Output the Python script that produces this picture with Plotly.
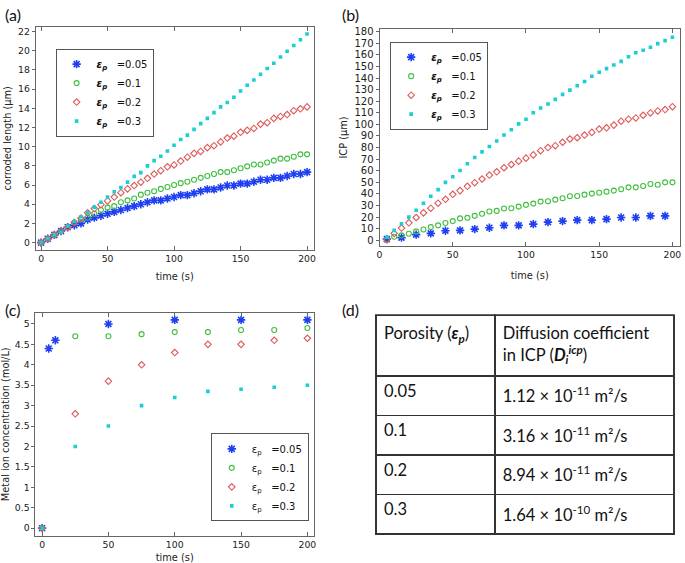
import plotly.graph_objects as go

# ---------------- data ----------------
time_a = [0, 5, 10, 15, 20, 25, 30, 35, 40, 45, 50, 55, 60, 65, 70, 75, 80, 85, 90, 95, 100,
          105, 110, 115, 120, 125, 130, 135, 140, 145, 150, 155, 160, 165, 170, 175, 180, 185, 190, 195, 200]
cl_005 = [0, 0.4, 0.8, 1.2, 1.6, 1.8, 2.0, 2.4, 2.6, 2.8, 3.0, 3.2, 3.4, 3.6, 3.8, 4.0, 4.2, 4.4, 4.4, 4.6, 4.75,
          4.95, 4.95, 5.15, 5.35, 5.55, 5.55, 5.75, 5.95, 5.95, 6.15, 6.15, 6.35, 6.55, 6.55, 6.75, 6.75, 6.95, 7.15, 7.15, 7.35]
cl_01 = [0, 0.4, 0.8, 1.2, 1.6, 2.1, 2.4, 2.6, 3.0, 3.4, 3.65, 3.8, 4.2, 4.4, 4.6, 5.0, 5.2, 5.35, 5.6, 5.8, 6.0,
         6.2, 6.35, 6.55, 6.75, 6.95, 7.15, 7.35, 7.35, 7.55, 7.75, 7.95, 8.15, 8.15, 8.35, 8.55, 8.75, 8.75, 8.95, 9.2, 9.2]
cl_02 = [0, 0.4, 0.8, 1.2, 1.6, 2.1, 2.55, 3.1, 3.55, 3.95, 4.35, 4.75, 5.2, 5.6, 5.95, 6.3, 6.7, 7.15, 7.5, 7.9, 8.1,
         8.5, 8.9, 9.3, 9.5, 9.9, 10.1, 10.5, 10.9, 11.1, 11.5, 11.7, 11.9, 12.35, 12.5, 12.95, 13.15, 13.35, 13.75, 13.95, 14.15]
cl_03 = [0, 0.4, 0.8, 1.1, 1.7, 2.2, 2.7, 3.1, 3.7, 4.2, 4.75, 5.3, 5.75, 6.3, 6.9, 7.3, 8.0, 8.55, 9.0, 9.55, 10.15,
         10.75, 11.2, 11.8, 12.4, 12.95, 13.55, 14.15, 14.6, 15.15, 15.8, 16.4, 16.95, 17.55, 18.15, 18.7, 19.35, 19.95, 20.55, 21.15, 21.75]

time_b_005 = [5, 15, 25, 35, 45, 55, 65, 75, 85, 95, 105, 115, 125, 135, 145, 155, 165, 175, 185, 195]
icp_005 = [1, 2.3, 4.9, 6, 8.3, 8.6, 9.7, 10.9, 12.9, 12.9, 14, 15.7, 16.6, 17.4, 17.4, 18.3, 19.7, 19.7, 21.1, 21.1]
time_b = [5, 10, 15, 20, 25, 30, 35, 40, 45, 50, 55, 60, 65, 70, 75, 80, 85, 90, 95, 100,
          105, 110, 115, 120, 125, 130, 135, 140, 145, 150, 155, 160, 165, 170, 175, 180, 185, 190, 195, 200]
icp_01 = [0.5, 3.1, 4.3, 5.7, 7.7, 9.4, 11.4, 12.9, 14.9, 16.6, 18.9, 19.4, 21.1, 22.9, 24.9, 25.4, 27.4, 27.7, 29.1, 30.6,
          31.7, 33.4, 33.7, 35.1, 36.3, 38.0, 38.3, 39.4, 40.3, 41.1, 42.0, 42.9, 44.0, 45.7, 45.7, 46.9, 48.6, 48.0, 50.0, 50.0]
icp_02 = [0.6, 6.0, 10.6, 15.1, 19.7, 23.7, 27.7, 32.0, 35.4, 39.7, 42.9, 46.6, 49.7, 52.9, 56.3, 59.1, 62.6, 65.4, 68.3, 70.9,
          73.7, 77.3, 80.0, 81.6, 84.6, 87.4, 88.5, 90.8, 93.1, 96.0, 97.1, 99.4, 102.8, 104.5, 105.6, 107.9, 109.9, 111.6, 112.8, 115.3]
icp_03 = [2.6, 8.6, 14.3, 20.0, 26.0, 32.0, 38.0, 43.7, 50.0, 54.9, 60.3, 66.0, 71.4, 76.3, 80.9, 85.7, 90.8, 95.4, 100.5, 104.5,
          110.0, 114.2, 117.6, 121.6, 125.9, 129.6, 133.3, 137.0, 141.5, 145.0, 148.1, 151.2, 154.4, 158.3, 161.8, 164.0, 166.6, 169.7, 172.3, 175.2]

time_c_005 = [0, 5, 10, 50, 100, 150, 200]
conc_005 = [0, 4.4, 4.6, 5.0, 5.1, 5.1, 5.1]
time_c = [0, 25, 50, 75, 100, 125, 150, 175, 200]
conc_01 = [0, 4.7, 4.7, 4.75, 4.8, 4.8, 4.85, 4.85, 4.9]
conc_02 = [0, 2.8, 3.6, 4.0, 4.3, 4.5, 4.5, 4.6, 4.65]
conc_03 = [0, 2.0, 2.5, 3.0, 3.2, 3.35, 3.4, 3.45, 3.5]

porosity_labels = ["0.05", "0.1", "0.2", "0.3"]
diffusion_labels = ["1.12 × 10<sup>-11</sup> m²/s", "3.16 × 10<sup>-11</sup> m²/s",
                    "8.94 × 10<sup>-11</sup> m²/s", "1.64 × 10<sup>-10</sup> m²/s"]
eps_values = ["0.05", "0.1", "0.2", "0.3"]

ya_ticks = [0, 2, 4, 6, 8, 10, 12, 14, 16, 18, 20, 22]
yb_ticks = [0, 10, 20, 30, 40, 50, 60, 70, 80, 90, 100, 110, 120, 130, 140, 150, 160, 170, 180]
yc_ticks = [0, 0.5, 1, 1.5, 2, 2.5, 3, 3.5, 4, 4.5, 5]
yc_text = ["0", "0.5", "1", "1.5", "2", "2.5", "3", "3.5", "4", "4.5", "5"]
x_ticks = [0, 50, 100, 150, 200]

# ---------------- styles ----------------
W, H = 685, 563
BLUE, GREEN, RED, CYAN = "#1f3ff2", "#3fbf3f", "#de5a5a", "#19cfd3"
marker_styles = [
    dict(symbol="asterisk-open", size=7, color=BLUE, line=dict(color=BLUE, width=1.6)),
    dict(symbol="circle-open", size=5, color=GREEN, line=dict(color=GREEN, width=1.1)),
    dict(symbol="diamond-open", size=5, color=RED, line=dict(color=RED, width=1.1)),
    dict(symbol="square", size=3.6, color=CYAN, line=dict(width=0)),
]
FONT = "DejaVu Sans"
AXC = "#666"


def px_x(v):
    return v / W


def px_y(v):
    return 1 - v / H


fig = go.Figure()


def add_series(xs, ys, idx, xa, ya, legend, italic=True):
    if italic:
        name = "<b><i>ε<sub>p</sub></i></b>\u00a0\u00a0 =" + eps_values[idx]
    else:
        name = "ε<sub>p</sub>\u00a0\u00a0 =" + eps_values[idx]
    fig.add_trace(go.Scatter(x=xs, y=ys, mode="markers", marker=marker_styles[idx], name=name,
                             xaxis=xa, yaxis=ya, legend=legend))


# panel a
add_series(time_a, cl_005, 0, "x", "y", "legend")
add_series(time_a, cl_01, 1, "x", "y", "legend")
add_series(time_a, cl_02, 2, "x", "y", "legend")
add_series(time_a, cl_03, 3, "x", "y", "legend")
# panel b
add_series(time_b_005, icp_005, 0, "x2", "y2", "legend2")
add_series(time_b, icp_01, 1, "x2", "y2", "legend2")
add_series(time_b, icp_02, 2, "x2", "y2", "legend2")
add_series(time_b, icp_03, 3, "x2", "y2", "legend2")
# panel c
add_series(time_c_005, conc_005, 0, "x3", "y3", "legend3", italic=False)
add_series(time_c, conc_01, 1, "x3", "y3", "legend3", italic=False)
add_series(time_c, conc_02, 2, "x3", "y3", "legend3", italic=False)
add_series(time_c, conc_03, 3, "x3", "y3", "legend3", italic=False)

# panel d table
fig.add_trace(go.Table(
    domain=dict(x=[px_x(375.7), px_x(676.5)], y=[px_y(540), px_y(315)]),
    columnwidth=[120, 181],
    header=dict(values=["Porosity (<b><i>ε<sub>p</sub></i></b>)",
                        "Diffusion coefficient<br>in ICP (<b><i>D<sub>i</sub><sup>icp</sup></i></b>)"],
                align="left", height=61, fill=dict(color="white"),
                line=dict(color="#333", width=1.5),
                font=dict(family="Lato", size=16.5, color="#111")),
    cells=dict(values=[porosity_labels, diffusion_labels], align="left", height=39.5,
               fill=dict(color="white"), line=dict(color="#333", width=1.5),
               font=dict(family="Lato", size=16.5, color="#111")),
))

tickfont = dict(family=FONT, size=9.3, color="#222")
tickfont_b = dict(family=FONT, size=10, color="#222")
titlefont = dict(family=FONT, size=9.8, color="#222")


def xax(domain, rng, anchor, standoff):
    return dict(domain=domain, range=rng, anchor=anchor, showline=True, linecolor=AXC, linewidth=1,
                mirror="ticks", ticks="inside", ticklen=4, tickcolor=AXC, showgrid=False, zeroline=False,
                tickmode="array", tickvals=x_ticks, tickfont=tickfont,
                title=dict(text="time (s)", font=titlefont, standoff=standoff))


def yax(domain, rng, anchor, tickvals, ticktext, title, standoff, tf):
    return dict(domain=domain, range=rng, anchor=anchor, showline=True, linecolor=AXC, linewidth=1,
                mirror=True, ticks="outside", ticklen=3, tickcolor=AXC, showgrid=False, zeroline=False,
                tickmode="array", tickvals=tickvals, ticktext=ticktext, tickfont=tf,
                title=dict(text=title, font=titlefont, standoff=standoff))


def yax_right(over, rng, anchor, tickvals):
    # inside tick marks on the right frame edge
    return dict(overlaying=over, side="right", range=rng, anchor=anchor, showline=False,
                ticks="inside", ticklen=4, tickcolor=AXC, showgrid=False, zeroline=False,
                showticklabels=False, tickmode="array", tickvals=tickvals)


legend_common = dict(bgcolor="white", bordercolor="#555", borderwidth=1,
                     font=dict(family=FONT, size=10, color="#111"), tracegroupgap=0, itemwidth=30)

ra, rb, rc = [-0.75, 22.5], [-5, 182.5], [-0.18, 5.27]

fig.update_layout(
    width=W, height=H, margin=dict(l=0, r=0, t=0, b=0),
    paper_bgcolor="white", plot_bgcolor="white",
    xaxis=xax([px_x(33), px_x(313)], [-4, 205], "y", 10),
    yaxis=yax([px_y(249), px_y(24)], ra, "x", ya_ticks, [str(v) for v in ya_ticks],
              "corroded length (µm)", 4, tickfont),
    xaxis2=xax([px_x(379.3), px_x(682)], [0, 205.2], "y2", 12),
    yaxis2=yax([px_y(245.3), px_y(26)], rb, "x2", yb_ticks, [str(v) for v in yb_ticks],
               "ICP (µm)", 4, tickfont_b),
    xaxis3=xax([px_x(32.7), px_x(313.3)], [-5, 205], "y3", 6),
    yaxis3=yax([px_y(537.3), px_y(312.7)], rc, "x3", yc_ticks, yc_text,
               "Metal ion concentration (mol/L)", 4, tickfont),
    yaxis4=yax_right("y", ra, "x", ya_ticks),
    yaxis5=yax_right("y2", rb, "x2", yb_ticks),
    yaxis6=yax_right("y3", rc, "x3", yc_ticks),
    legend=dict(x=px_x(53), y=px_y(46), xanchor="left", yanchor="top", **legend_common),
    legend2=dict(x=px_x(390), y=px_y(39), xanchor="left", yanchor="top", **legend_common),
    legend3=dict(x=px_x(308), y=px_y(523), xanchor="right", yanchor="bottom", **legend_common),
)

for label, xp, yp in [("(a)", 0, 0), ("(b)", 339, 0), ("(c)", 0, 298), ("(d)", 339, 298)]:
    fig.add_annotation(text=label, x=px_x(xp), y=px_y(yp), xref="paper", yref="paper",
                       xanchor="left", yanchor="top", showarrow=False,
                       font=dict(family="Lato", size=16, color="#111"))

fig.write_html("out.html", config={"displayModeBar": False},
               post_script="document.body.style.margin='0';")
